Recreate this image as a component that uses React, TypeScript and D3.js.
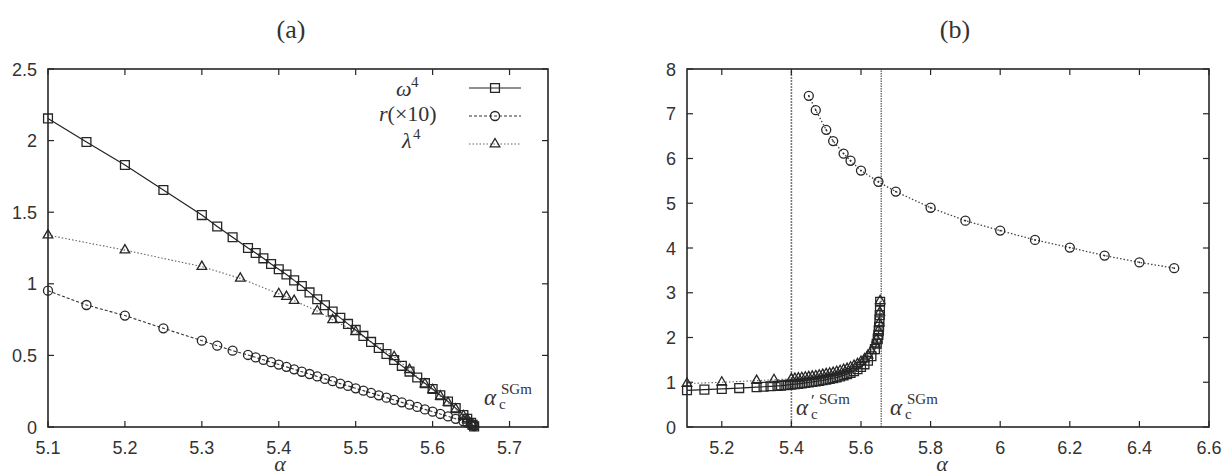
import React from 'react';
import * as d3 from 'd3';

const W = 1223;
const H = 476;

// ---------- Panel (a) data ----------
const alphaA = [5.1, 5.15, 5.2, 5.25, 5.3, 5.32, 5.34, 5.36, 5.37, 5.38, 5.39, 5.40, 5.41, 5.42, 5.43, 5.44, 5.45, 5.46, 5.47, 5.48, 5.49, 5.50, 5.51, 5.52, 5.53, 5.54, 5.55, 5.56, 5.57, 5.58, 5.59, 5.60, 5.61, 5.62, 5.63, 5.64, 5.645, 5.65, 5.652, 5.654];
const omega4 = [2.155, 1.99, 1.83, 1.655, 1.48, 1.40, 1.325, 1.25, 1.215, 1.178, 1.138, 1.102, 1.065, 1.024, 0.985, 0.94, 0.892, 0.85, 0.806, 0.762, 0.72, 0.678, 0.636, 0.594, 0.552, 0.51, 0.468, 0.427, 0.387, 0.346, 0.306, 0.265, 0.222, 0.178, 0.132, 0.083, 0.058, 0.03, 0.015, 0.004];
const rTimes10 = [0.952, 0.852, 0.778, 0.689, 0.603, 0.568, 0.533, 0.503, 0.486, 0.469, 0.453, 0.436, 0.42, 0.403, 0.386, 0.37, 0.353, 0.336, 0.32, 0.303, 0.287, 0.27, 0.254, 0.238, 0.221, 0.205, 0.189, 0.172, 0.156, 0.14, 0.123, 0.107, 0.091, 0.074, 0.057, 0.04, 0.031, 0.022, 0.014, 0.006];
const alphaLambda = [5.1, 5.2, 5.3, 5.35, 5.4, 5.41, 5.42, 5.45, 5.47, 5.5, 5.55, 5.57, 5.59, 5.6, 5.61, 5.62, 5.63, 5.64, 5.645, 5.65, 5.652];
const lambda4 = [1.34, 1.235, 1.12, 1.038, 0.93, 0.91, 0.882, 0.81, 0.748, 0.665, 0.49, 0.40, 0.30, 0.26, 0.215, 0.17, 0.125, 0.078, 0.055, 0.028, 0.014];

const xTicksA = [5.1, 5.2, 5.3, 5.4, 5.5, 5.6, 5.7];
const yTicksA = [0, 0.5, 1, 1.5, 2, 2.5];

// ---------- Panel (b) data ----------
const alphaB = [5.1, 5.15, 5.2, 5.25, 5.3, 5.32, 5.34, 5.36, 5.37, 5.38, 5.39, 5.40, 5.41, 5.42, 5.43, 5.44, 5.45, 5.46, 5.47, 5.48, 5.49, 5.50, 5.51, 5.52, 5.53, 5.54, 5.55, 5.56, 5.57, 5.58, 5.59, 5.60, 5.61, 5.62, 5.63, 5.64, 5.645, 5.648, 5.65, 5.651, 5.652, 5.653, 5.654, 5.6545, 5.655];
const omegaB = [0.82, 0.835, 0.85, 0.87, 0.89, 0.90, 0.91, 0.92, 0.925, 0.932, 0.94, 0.948, 0.956, 0.965, 0.975, 0.985, 0.995, 1.006, 1.018, 1.03, 1.044, 1.058, 1.074, 1.09, 1.11, 1.13, 1.155, 1.18, 1.21, 1.245, 1.29, 1.34, 1.40, 1.48, 1.58, 1.74, 1.86, 1.96, 2.06, 2.14, 2.24, 2.36, 2.5, 2.62, 2.8];
const alphaBTri = [5.1, 5.2, 5.3, 5.35, 5.4, 5.41, 5.42, 5.43, 5.44, 5.45, 5.46, 5.47, 5.48, 5.49, 5.50, 5.51, 5.52, 5.53, 5.54, 5.55, 5.56, 5.57, 5.58, 5.59, 5.60, 5.61, 5.62, 5.63, 5.64, 5.645, 5.65, 5.652, 5.654, 5.655];
const lambdaB = [0.97, 1.0, 1.035, 1.055, 1.075, 1.08, 1.09, 1.10, 1.11, 1.12, 1.13, 1.14, 1.155, 1.17, 1.185, 1.2, 1.215, 1.235, 1.255, 1.28, 1.305, 1.335, 1.37, 1.41, 1.46, 1.52, 1.6, 1.7, 1.85, 1.96, 2.15, 2.32, 2.56, 2.82];
const alphaBUpper = [5.45, 5.47, 5.5, 5.52, 5.55, 5.57, 5.6, 5.65, 5.7, 5.8, 5.9, 6.0, 6.1, 6.2, 6.3, 6.4, 6.5];
const rUpperB = [7.40, 7.08, 6.64, 6.39, 6.11, 5.95, 5.73, 5.48, 5.26, 4.90, 4.61, 4.39, 4.18, 4.01, 3.83, 3.68, 3.55];
const criticalAlphas = [5.4, 5.658];

const xTicksB = [5.2, 5.4, 5.6, 5.8, 6.0, 6.2, 6.4, 6.6];
const yTicksB = [0, 1, 2, 3, 4, 5, 6, 7, 8];

// ---------- Layout ----------
const TOP = 69;
const BOTTOM = 427;
const xA = d3.scaleLinear().domain([5.1, 5.75]).range([48, 548]);
const yA = d3.scaleLinear().domain([0, 2.5]).range([BOTTOM, TOP]);
const xB = d3.scaleLinear().domain([5.1, 6.6]).range([687, 1209]);
const yB = d3.scaleLinear().domain([0, 8]).range([BOTTOM, TOP]);

const INK = '#262626';
const SANS = '"Liberation Sans", Arial, Helvetica, sans-serif';
const SERIF = '"Liberation Serif", "DejaVu Serif", serif';

const squarePath = d3.symbol(d3.symbolSquare, 78)()!;
const circlePath = d3.symbol(d3.symbolCircle, 64)()!;
const trianglePath = d3.symbol(d3.symbolTriangle, 40)()!;

type Sc = d3.ScaleLinear<number, number>;

function Frame({ x, y, xt, yt, xfmt, yfmt }: { x: Sc; y: Sc; xt: number[]; yt: number[]; xfmt: (v: number) => string; yfmt: (v: number) => string }) {
  const [x0, x1] = x.range();
  const [y0, y1] = y.range();
  const tl = 6;
  return (
    <g>
      {xt.map((v, i) => (
        <g key={'xt' + i}>
          <line x1={x(v)} x2={x(v)} y1={y0} y2={y0 - tl} stroke={INK} strokeWidth={1.2} />
          <line x1={x(v)} x2={x(v)} y1={y1} y2={y1 + tl} stroke={INK} strokeWidth={1.2} />
          <text x={x(v)} y={454} textAnchor="middle" fontFamily={SANS} fontSize={18} fill="#333">{xfmt(v)}</text>
        </g>
      ))}
      {yt.map((v, i) => (
        <g key={'yt' + i}>
          <line x1={x0} x2={x0 + tl} y1={y(v)} y2={y(v)} stroke={INK} strokeWidth={1.2} />
          <line x1={x1} x2={x1 - tl} y1={y(v)} y2={y(v)} stroke={INK} strokeWidth={1.2} />
          <text x={x0 - 11} y={y(v) + 6.5} textAnchor="end" fontFamily={SANS} fontSize={18} fill="#333">{yfmt(v)}</text>
        </g>
      ))}
      <rect x={x0} y={y1} width={x1 - x0} height={y0 - y1} fill="none" stroke={INK} strokeWidth={1.6} />
    </g>
  );
}

function Markers({ xs, ys, x, y, path, dot }: { xs: number[]; ys: number[]; x: Sc; y: Sc; path: string; dot?: boolean }) {
  return (
    <g>
      {xs.map((a, i) => (
        <g key={i} transform={`translate(${x(a)},${y(ys[i])})`}>
          <path d={path} fill="none" stroke={INK} strokeWidth={1.3} />
          {dot && <circle r={0.9} fill={INK} />}
        </g>
      ))}
    </g>
  );
}

function SeriesLine({ xs, ys, x, y, dash, color, width }: { xs: number[]; ys: number[]; x: Sc; y: Sc; dash?: string; color: string; width: number }) {
  const gen = d3.line<number>().x((a) => x(a)).y((_, i) => y(ys[i]));
  return <path d={gen(xs) || ''} fill="none" stroke={color} strokeWidth={width} strokeDasharray={dash} />;
}

function CritLabel({ x, base, prime }: { x: number; base: number; prime?: boolean }) {
  return (
    <g fontFamily={SERIF} fill="#333">
      <text x={x} y={base} fontSize={23} fontStyle="italic">α</text>
      {prime && <text x={x + 15} y={base - 9} fontSize={17}>′</text>}
      <text x={x + 15} y={base + 4} fontSize={15}>c</text>
      <text x={x + (prime ? 23 : 17)} y={base - 11} fontSize={15}>SGm</text>
    </g>
  );
}

export default function App() {
  const fmt = (v: number) => String(+v.toFixed(2));
  return (
    <svg width={W} height={H} style={{ position: 'absolute', left: 0, top: 0, background: '#fff' }}>
      <rect width={W} height={H} fill="#fff" />

      {/* Titles */}
      <text x={291} y={38} textAnchor="middle" fontFamily={SERIF} fontSize={26} fill="#333">(a)</text>
      <text x={955} y={38} textAnchor="middle" fontFamily={SERIF} fontSize={26} fill="#333">(b)</text>

      {/* ---------- Panel (a) ---------- */}
      <SeriesLine xs={alphaA} ys={omega4} x={xA} y={yA} color="#222" width={1.2} />
      <SeriesLine xs={alphaA} ys={rTimes10} x={xA} y={yA} color="#333" width={1.1} dash="3,2" />
      <SeriesLine xs={alphaLambda} ys={lambda4} x={xA} y={yA} color="#666" width={1.1} dash="1.5,2" />
      <Markers xs={alphaA} ys={omega4} x={xA} y={yA} path={squarePath} />
      <Markers xs={alphaA} ys={rTimes10} x={xA} y={yA} path={circlePath} />
      <Markers xs={alphaLambda} ys={lambda4} x={xA} y={yA} path={trianglePath} />
      <Frame x={xA} y={yA} xt={xTicksA} yt={yTicksA} xfmt={fmt} yfmt={fmt} />

      {/* Legend (a) */}
      <g fontFamily={SERIF} fill="#333">
        <text x={396} y={96} fontSize={22} fontStyle="italic">ω</text>
        <text x={411} y={87} fontSize={15}>4</text>
        <text x={379} y={121} fontSize={22}><tspan fontStyle="italic">r</tspan>(×10)</text>
        <text x={402} y={148} fontSize={22} fontStyle="italic">λ</text>
        <text x={413} y={139} fontSize={15}>4</text>
      </g>
      <line x1={469} x2={521} y1={88} y2={88} stroke="#222" strokeWidth={1.2} />
      <path d={squarePath} transform="translate(495,88)" fill="none" stroke={INK} strokeWidth={1.3} />
      <line x1={469} x2={521} y1={116} y2={116} stroke="#333" strokeWidth={1.1} strokeDasharray="3,2" />
      <path d={circlePath} transform="translate(495,116)" fill="none" stroke={INK} strokeWidth={1.3} />
      <line x1={469} x2={521} y1={144} y2={144} stroke="#666" strokeWidth={1.1} strokeDasharray="1.5,2" />
      <path d={trianglePath} transform="translate(495,144)" fill="none" stroke={INK} strokeWidth={1.3} />

      <CritLabel x={484} base={405} />
      <text x={280} y={471} textAnchor="middle" fontFamily={SERIF} fontSize={22} fontStyle="italic" fill="#333">α</text>

      {/* ---------- Panel (b) ---------- */}
      {criticalAlphas.map((a, i) => (
        <line key={'c' + i} x1={xB(a)} x2={xB(a)} y1={BOTTOM} y2={TOP}
          stroke={i === 0 ? '#777' : '#444'} strokeWidth={i === 0 ? 1.6 : 1.1} strokeDasharray={i === 0 ? '2,1' : '1.5,1'} />
      ))}
      <SeriesLine xs={alphaB} ys={omegaB} x={xB} y={yB} color="#222" width={1.2} />
      <SeriesLine xs={alphaBTri} ys={lambdaB} x={xB} y={yB} color="#666" width={1.1} dash="1.5,2" />
      <SeriesLine xs={alphaBUpper} ys={rUpperB} x={xB} y={yB} color="#444" width={1.3} dash="1.5,2" />
      <Markers xs={alphaB} ys={omegaB} x={xB} y={yB} path={squarePath} />
      <Markers xs={alphaBTri} ys={lambdaB} x={xB} y={yB} path={trianglePath} />
      <Markers xs={alphaBUpper} ys={rUpperB} x={xB} y={yB} path={circlePath} dot />
      <Frame x={xB} y={yB} xt={xTicksB} yt={yTicksB} xfmt={fmt} yfmt={fmt} />

      <CritLabel x={796} base={415} prime />
      <CritLabel x={890} base={415} />
      <text x={942} y={471} textAnchor="middle" fontFamily={SERIF} fontSize={22} fontStyle="italic" fill="#333">α</text>
    </svg>
  );
}
